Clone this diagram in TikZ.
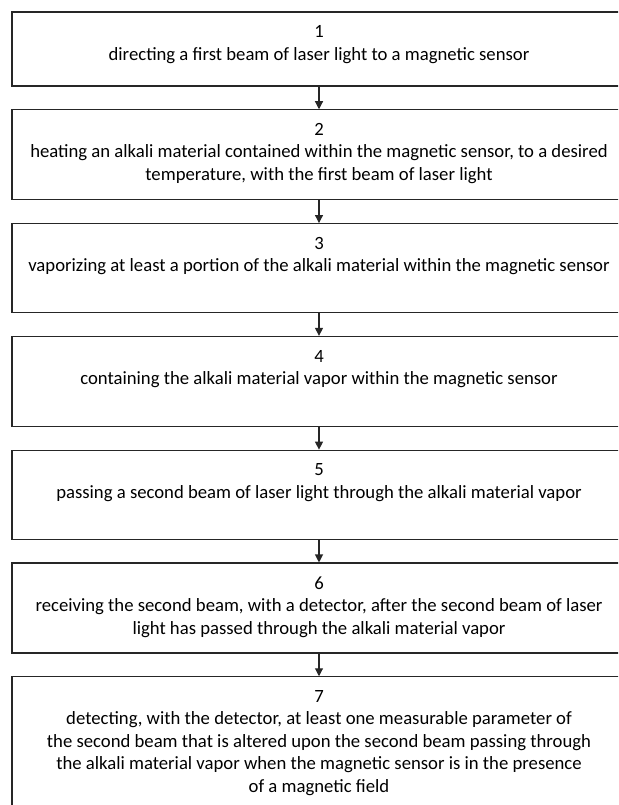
\documentclass[tikz,border=0pt]{standalone}
\usepackage{fontspec}
\setmainfont{Carlito}
\usetikzlibrary{positioning,arrows.meta}
\tikzset{stepbox/.style={draw=black!85,line width=1.1pt,rectangle,minimum width=614pt,inner sep=0pt},
  steptext/.style={anchor=north,align=center,inner sep=0pt,font=\fontsize{18.7}{22.4}\selectfont},
  flow/.style={-{Triangle[length=8pt,width=8pt]},line width=1.1pt,draw=black!85}}

\begin{document}
\begin{tikzpicture}[x=1pt,y=1pt,node distance=22.7pt]
\useasboundingbox (0,0) rectangle (618,-805);
\clip (0,0) rectangle (618,-805);
% boxes
\node [stepbox,minimum height=74pt] (s1) at (319,-49) {};
\node [stepbox,minimum height=90pt,below=of s1] (s2) {};
\node [stepbox,minimum height=89pt,below=of s2] (s3) {};
\node [stepbox,minimum height=90pt,below=of s3] (s4) {};
\node [stepbox,minimum height=89pt,below=of s4] (s5) {};
\node [stepbox,minimum height=90pt,below=of s5] (s6) {};
\node [stepbox,minimum height=150pt,below=of s6] (s7) {};
% texts
\node [steptext] (t1) at ([yshift=-14pt]s1.north) {1\\directing a first beam of laser light to a magnetic sensor};
\node [steptext] (t2) at ([yshift=-14pt]s2.north) {2\\heating an alkali material contained within the magnetic sensor, to a desired\\temperature, with the first beam of laser light};
\node [steptext] (t3) at ([yshift=-14pt]s3.north) {3\\vaporizing at least a portion of the alkali material within the magnetic sensor};
\node [steptext] (t4) at ([yshift=-14pt]s4.north) {4\\containing the alkali material vapor within the magnetic sensor};
\node [steptext] (t5) at ([yshift=-14pt]s5.north) {5\\passing a second beam of laser light through the alkali material vapor};
\node [steptext] (t6) at ([yshift=-14pt]s6.north) {6\\receiving the second beam, with a detector, after the second beam of laser\\light has passed through the alkali material vapor};
\node [steptext] (t7) at ([yshift=-14pt]s7.north) {7\\detecting, with the detector, at least one measurable parameter of\\the second beam that is altered upon the second beam passing through\\the alkali material vapor when the magnetic sensor is in the presence\\of a magnetic field};
% arrows
\foreach \a/\b in {s1/s2,s2/s3,s3/s4,s4/s5,s5/s6,s6/s7}
  \draw [flow] (\a) -- (\b);
\end{tikzpicture}
\end{document}
